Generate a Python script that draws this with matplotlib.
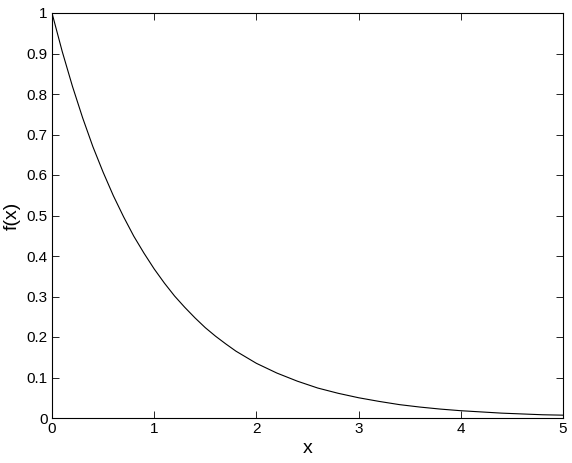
import matplotlib
matplotlib.use("Agg")
import matplotlib.pyplot as plt

x_vals = [0.0, 0.1, 0.2, 0.3, 0.4, 0.5, 0.6, 0.7, 0.8, 0.9, 1.0,
          1.1, 1.2, 1.3, 1.4, 1.5, 1.6, 1.7, 1.8, 1.9, 2.0,
          2.2, 2.4, 2.6, 2.8, 3.0, 3.2, 3.4, 3.6, 3.8, 4.0,
          4.2, 4.4, 4.6, 4.8, 5.0]
f_vals = [1.000, 0.905, 0.819, 0.741, 0.670, 0.607, 0.549, 0.497, 0.449, 0.407, 0.368,
          0.333, 0.301, 0.273, 0.247, 0.223, 0.202, 0.183, 0.165, 0.150, 0.135,
          0.111, 0.091, 0.074, 0.061, 0.050, 0.041, 0.033, 0.027, 0.022, 0.018,
          0.015, 0.012, 0.010, 0.008, 0.007]
x_ticks = [0, 1, 2, 3, 4, 5]
y_ticks = [0, 0.1, 0.2, 0.3, 0.4, 0.5, 0.6, 0.7, 0.8, 0.9, 1]
y_tick_labels = ["0", "0.1", "0.2", "0.3", "0.4", "0.5", "0.6", "0.7", "0.8", "0.9", "1"]

plt.rcParams['font.family'] = ['Liberation Sans', 'DejaVu Sans']

fig = plt.figure(figsize=(5.72, 4.63), dpi=100)
ax = fig.add_axes([52/572, 45/463, 511/572, 405/463])
ax.plot(x_vals, f_vals, color='black', linewidth=0.8)
ax.set_xlim(0, 5)
ax.set_ylim(0, 1)
ax.set_xticks(x_ticks)
ax.set_xticklabels([str(t) for t in x_ticks])
ax.set_yticks(y_ticks)
ax.set_yticklabels(y_tick_labels)
ax.tick_params(direction='in', top=True, right=True, length=5, width=0.6,
               labelsize=11, pad=3)
for s in ax.spines.values():
    s.set_linewidth(0.8)
ax.set_xlabel('x', fontsize=14, labelpad=3)
ax.set_ylabel('f(x)', fontsize=14, labelpad=4)

fig.savefig('out.png', dpi=100)
